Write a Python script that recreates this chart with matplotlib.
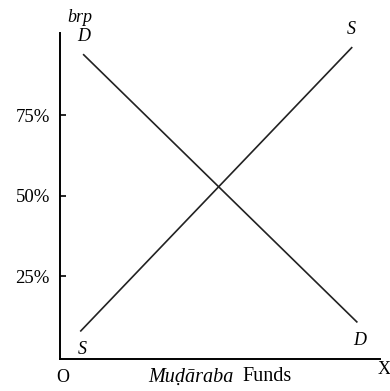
import numpy as np
import matplotlib.pyplot as plt

plt.rcParams['font.family'] = ['Liberation Serif', 'DejaVu Serif']

# curve end points (funds, brp %)
demand_x = [7.5, 92.8]
demand_y = [93.8, 10.9]
supply_x = [6.6, 91.2]
supply_y = [8.1, 96.0]
ticks = [25, 50, 75]
tick_labels = ['25%', '50%', '75%']

fig = plt.figure(figsize=(3.9, 3.91), dpi=100)
ax = fig.add_axes([0.153, 0.082, 0.821, 0.834])

ax.plot(demand_x, demand_y, color='#222222', lw=1.2)
ax.plot(supply_x, supply_y, color='#222222', lw=1.2)

ax.set_xlim(0, 100)
ax.set_ylim(-0.6, 100.6)
for s in ['top', 'right']:
    ax.spines[s].set_visible(False)
ax.spines['left'].set_linewidth(1.4)
ax.spines['bottom'].set_linewidth(1.4)
ax.set_xticks([])
ax.set_yticks(ticks)
ax.set_yticklabels(tick_labels, fontsize=13.5)
ax.tick_params(axis='y', direction='in', length=4, width=1.2, pad=7)

ax.text(demand_x[0], demand_y[0] + 3, 'D', style='italic', fontsize=13, ha='center', va='bottom')
ax.text(demand_x[1] + 1, demand_y[1] - 3, 'D', style='italic', fontsize=13, ha='center', va='top')
ax.text(supply_x[1], supply_y[1] + 3, 'S', style='italic', fontsize=13, ha='center', va='bottom')
ax.text(supply_x[0] + 0.5, supply_y[0] - 3, 'S', style='italic', fontsize=13, ha='center', va='top')

fig.text(0.205, 0.955, 'brp', style='italic', fontsize=13, ha='center', va='center')
fig.text(0.16, 0.035, 'O', fontsize=13, ha='center', va='center')
fig.text(0.985, 0.055, 'X', fontsize=13, ha='center', va='center')
fig.text(0.379, 0.036, 'Muḍāraba', style='italic', fontsize=14.5, ha='left', va='center')
fig.text(0.621, 0.036, 'Funds', fontsize=14.5, ha='left', va='center')

plt.savefig('out.png', dpi=100)
